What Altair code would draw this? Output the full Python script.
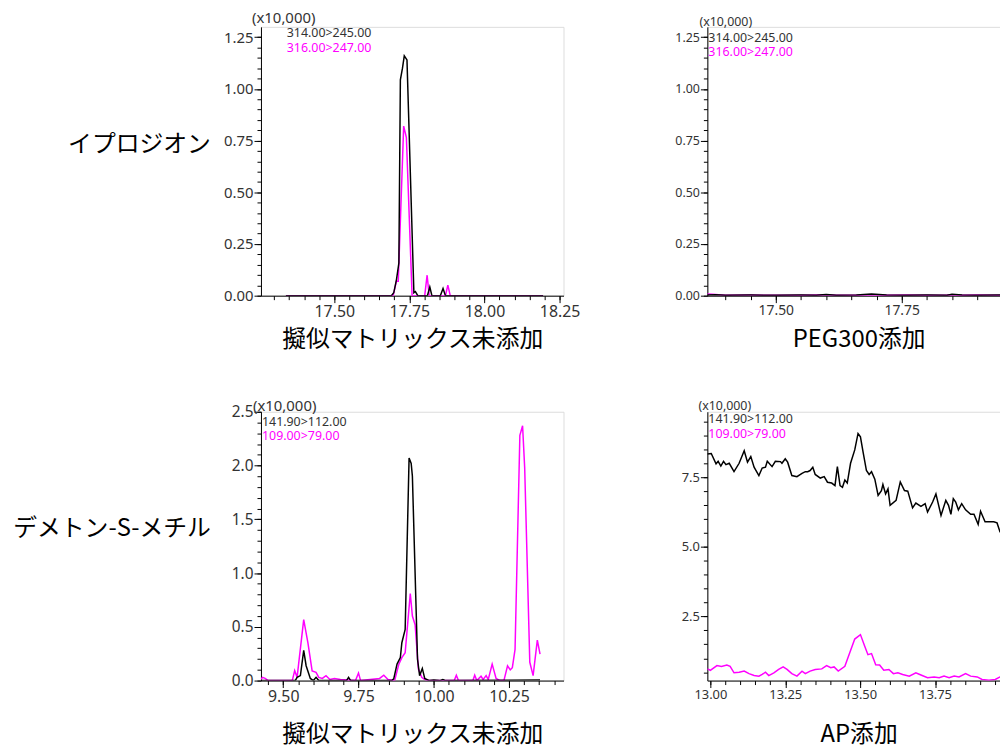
import altair as alt
import pandas as pd

# ---------------- data ----------------
# Top-left: イプロジオン, 擬似マトリックス未添加
TL_BLACK_T = [17.339, 17.50, 17.60, 17.690, 17.698, 17.707, 17.715, 17.720, 17.727, 17.733,
              17.742, 17.765, 17.770, 17.778, 17.810, 17.818, 17.825, 17.853, 17.862, 17.870, 18.195]
TL_BLACK_V = [0.0, 0.0, 0.0, 0.0, 0.014, 0.078, 0.158, 1.044, 1.10, 1.16,
              1.14, 0.014, 0.02, 0.0, 0.0, 0.042, 0.0, 0.0, 0.035, 0.0, 0.0]
TL_PINK_T = [17.339, 17.50, 17.60, 17.696, 17.707, 17.713, 17.731, 17.740, 17.759,
             17.801, 17.809, 17.816, 17.870, 17.878, 17.886, 18.195]
TL_PINK_V = [0.0, 0.0, 0.0, 0.0, 0.07, 0.07, 0.82, 0.765, 0.0,
             0.0, 0.099, 0.0, 0.0, 0.051, 0.0, 0.0]

# Top-right: イプロジオン, PEG300添加
TR_T = [17.364, 17.38, 17.40, 17.45, 17.50, 17.55, 17.58, 17.60, 17.62, 17.66,
        17.69, 17.72, 17.76, 17.80, 17.84, 17.85, 17.87, 17.90, 17.95, 18.00]
TR_BLACK_V = [0.003, 0.004, 0.002, 0.003, 0.002, 0.003, 0.002, 0.006, 0.002, 0.003,
              0.008, 0.003, 0.002, 0.003, 0.002, 0.007, 0.003, 0.002, 0.003, 0.002]
TR_PINK_V = [0.008, 0.006, 0.002, 0.003, 0.002, 0.002, 0.003, 0.004, 0.002, 0.002,
             0.004, 0.002, 0.003, 0.002, 0.003, 0.004, 0.002, 0.003, 0.002, 0.003]

# Bottom-left: デメトン-S-メチル, 擬似マトリックス未添加
BL_BLACK_T = [9.426, 9.50, 9.540, 9.546, 9.557, 9.568, 9.576, 9.590, 9.600, 9.609, 9.618,
              9.710, 9.717, 9.724, 9.860, 9.867, 9.878, 9.889, 9.894, 9.905, 9.918, 9.925,
              9.929, 9.946, 9.953, 9.962, 9.970, 9.985, 10.00, 10.02, 10.03, 10.04, 10.353]
BL_BLACK_V = [0.0, 0.0, 0.0, 0.03, 0.046, 0.28, 0.138, 0.02, 0.0, 0.03, 0.0,
              0.0, 0.03, 0.0, 0.0, 0.016, 0.153, 0.214, 0.352, 0.475, 2.07, 2.02,
              1.90, 0.2, 0.046, 0.113, 0.02, 0.0, 0.005, 0.0, 0.01, 0.0, 0.005]
BL_PINK_T = [9.426, 9.431, 9.440, 9.450, 9.530, 9.538, 9.546, 9.568, 9.582, 9.596, 9.609,
             9.618, 9.630, 9.642, 9.655, 9.670, 9.690, 9.740, 9.750, 9.757, 9.820, 9.834,
             9.848, 9.870, 9.884, 9.894, 9.905, 9.922, 9.929, 9.938, 9.949, 9.960, 9.970,
             9.985, 10.068, 10.075, 10.082, 10.130, 10.136, 10.143, 10.157, 10.164, 10.174,
             10.181, 10.194, 10.207, 10.220, 10.233, 10.245, 10.254, 10.261, 10.270, 10.286,
             10.295, 10.302, 10.319, 10.330, 10.344, 10.353]
BL_PINK_V = [0.01, 0.03, 0.02, 0.0, 0.0, 0.092, 0.03, 0.567, 0.35, 0.09, 0.076,
             0.03, 0.02, 0.046, 0.01, 0.02, 0.01, 0.0, 0.07, 0.0, 0.02, 0.05,
             0.01, 0.0, 0.153, 0.214, 0.26, 0.81, 0.60, 0.52, 0.107, 0.03, 0.01,
             0.0, 0.0, 0.05, 0.0, 0.0, 0.05, 0.0, 0.04, 0.01, 0.046,
             0.01, 0.153, 0.02, 0.0, 0.0, 0.138, 0.10, 0.12, 0.29, 2.28,
             2.37, 1.98, 0.17, 0.046, 0.377, 0.245]

# Bottom-right: デメトン-S-メチル, AP添加
BR_BLACK_T = [12.990, 13.003, 13.019, 13.026, 13.035, 13.044, 13.052, 13.063, 13.079, 13.096,
              13.113, 13.124, 13.135, 13.146, 13.162, 13.173, 13.184, 13.190, 13.206, 13.217,
              13.234, 13.239, 13.250, 13.258, 13.272, 13.289, 13.306, 13.317, 13.325, 13.333,
              13.342, 13.350, 13.367, 13.380, 13.391, 13.405, 13.416, 13.424, 13.433, 13.441,
              13.449, 13.457, 13.468, 13.482, 13.493, 13.501, 13.510, 13.521, 13.530, 13.538,
              13.549, 13.560, 13.571, 13.576, 13.585, 13.593, 13.600, 13.620, 13.634, 13.648,
              13.659, 13.675, 13.686, 13.703, 13.717, 13.725, 13.742, 13.753, 13.770, 13.786,
              13.795, 13.803, 13.811, 13.819, 13.828, 13.839, 13.852, 13.869, 13.880, 13.894,
              13.902, 13.917, 13.930, 13.946, 13.957, 13.967, 13.980, 14.000]
BR_BLACK_V = [8.33, 8.35, 7.98, 8.07, 7.90, 8.07, 7.95, 8.00, 7.70, 8.00,
              8.45, 8.04, 8.24, 7.86, 7.56, 7.83, 7.86, 8.07, 7.88, 8.07,
              8.06, 8.00, 8.16, 8.04, 7.56, 7.52, 7.64, 7.70, 7.70, 7.74,
              7.86, 7.60, 7.47, 7.52, 7.32, 7.29, 7.20, 7.88, 7.20, 7.14,
              7.40, 7.29, 8.00, 8.48, 9.07, 8.95, 8.39, 7.74, 7.60, 7.70,
              7.43, 6.85, 7.02, 7.24, 6.90, 7.08, 6.49, 6.67, 7.33, 7.02,
              7.00, 6.40, 6.57, 6.45, 6.55, 6.25, 6.61, 6.90, 6.13, 6.67,
              6.49, 6.17, 6.73, 6.61, 6.33, 6.55, 6.33, 6.17, 6.17, 5.81,
              6.28, 5.90, 5.90, 5.90, 5.86, 5.54, 5.40, 5.45]
BR_PINK_T = [12.990, 13.000, 13.022, 13.037, 13.055, 13.066, 13.079, 13.096, 13.113, 13.129,
             13.146, 13.162, 13.173, 13.184, 13.195, 13.212, 13.228, 13.243, 13.256, 13.272,
             13.289, 13.306, 13.317, 13.333, 13.350, 13.372, 13.388, 13.402, 13.413, 13.427,
             13.449, 13.465, 13.482, 13.501, 13.515, 13.526, 13.538, 13.552, 13.565, 13.579,
             13.596, 13.611, 13.626, 13.642, 13.664, 13.686, 13.703, 13.725, 13.747, 13.764,
             13.780, 13.797, 13.814, 13.830, 13.852, 13.869, 13.891, 13.907, 13.930, 13.951,
             13.967, 13.980, 14.000]
BR_PINK_V = [0.62, 0.57, 0.74, 0.71, 0.76, 0.71, 0.48, 0.50, 0.54, 0.45,
             0.38, 0.36, 0.42, 0.50, 0.38, 0.48, 0.60, 0.69, 0.60, 0.45,
             0.36, 0.54, 0.45, 0.54, 0.60, 0.62, 0.74, 0.66, 0.69, 0.54,
             0.71, 1.19, 1.69, 1.85, 1.44, 1.13, 1.17, 0.77, 0.76, 0.57,
             0.60, 0.45, 0.48, 0.42, 0.36, 0.48, 0.40, 0.30, 0.33, 0.30,
             0.36, 0.30, 0.36, 0.33, 0.45, 0.36, 0.33, 0.24, 0.21, 0.24,
             0.33, 0.35, 0.30]

ROW_LABELS = ["イプロジオン", "デメトン-S-メチル"]
COL_TITLES = ["擬似マトリックス未添加", "PEG300添加", "擬似マトリックス未添加", "AP添加"]
LEGEND_TOP = ["314.00>245.00", "316.00>247.00"]
LEGEND_BOTTOM = ["141.90>112.00", "109.00>79.00"]
SCALE_TEXT = "(x10,000)"

LATIN = "Noto Sans"
CJK = "Noto Sans CJK JP"
PINK = "#ff00ff"
GREY = "#333333"


def tick_values(start, stop, step):
    n = int(round((stop - start) / step))
    return [round(start + i * step, 4) for i in range(n + 1)]


def major_axis(values, fmt, fs, orient, **kw):
    return alt.Axis(values=values, format=fmt, orient=orient, tickSize=7,
                    labelOverlap=False, labelFlush=False, labelFont=LATIN, labelFontSize=fs,
                    labelColor=GREY, tickColor="black", domainColor="black", grid=False,
                    labelPadding=1, **kw)


def minor_axis(values, orient):
    return alt.Axis(values=values, orient=orient, tickSize=4, labels=False, domain=False,
                    tickColor="black", grid=False, title=None)


def panel(bt, bv, pt, pv, xdom, ydom, xaxis, xminor, yaxis, yminor, width, height,
          legend, leg_x, leg_y, leg_dy, sc_x, sc_y, sc_fs):
    xs = alt.Scale(domain=xdom, nice=False, zero=False)
    ys = alt.Scale(domain=ydom, nice=False, zero=False)
    pink = alt.Chart(pd.DataFrame({"t": pt, "v": pv})).mark_line(
        color=PINK, strokeWidth=1.5, clip=True).encode(
        x=alt.X("t:Q", scale=xs, axis=xaxis), y=alt.Y("v:Q", scale=ys, axis=yaxis))
    black = alt.Chart(pd.DataFrame({"t": bt, "v": bv})).mark_line(
        color="black", strokeWidth=1.5, clip=True).encode(
        x=alt.X("t:Q", scale=xs, axis=xminor), y=alt.Y("v:Q", scale=ys, axis=yminor))
    layers = [pink, black]
    for i, (txt, col) in enumerate(zip(legend, [GREY, PINK])):
        layers.append(alt.Chart(pd.DataFrame({"s": [txt]})).mark_text(
            align="left", baseline="middle", font=LATIN, fontSize=12.5, color=col).encode(
            x=alt.value(leg_x), y=alt.value(leg_y + i * leg_dy), text="s:N"))
    layers.append(alt.Chart(pd.DataFrame({"s": [SCALE_TEXT]})).mark_text(
        align="left", baseline="middle", font=LATIN, fontSize=sc_fs, color=GREY).encode(
        x=alt.value(sc_x), y=alt.value(sc_y), text="s:N"))
    return alt.layer(*layers).resolve_axis(x="independent", y="independent").properties(
        width=width, height=height)


W, H = 305, 271
TITLE_KW = dict(titleFont=CJK, titleFontSize=24, titleColor="black", titleFontWeight="normal",
                titleBaseline="middle", titleAlign="center", titleX=W / 2)
ROW_KW = dict(titleFont=CJK, titleFontSize=24, titleColor="black", titleFontWeight="normal",
              titleAngle=0, titleAlign="right", titleBaseline="middle", titleX=-51)

tl = panel(TL_BLACK_T, TL_BLACK_V, TL_PINK_T, TL_PINK_V, [17.256, 18.263], [0, 1.3],
           major_axis([17.50, 17.75, 18.00, 18.25], ".2f", 16, "bottom",
                      title=COL_TITLES[0], titleY=44, **TITLE_KW),
           minor_axis(tick_values(17.30, 18.25, 0.05), "bottom"),
           major_axis([0, 0.25, 0.5, 0.75, 1.0, 1.25], ".2f", 15, "left",
                      title=ROW_LABELS[0], titleY=119, **ROW_KW),
           minor_axis(tick_values(0, 1.25, 0.05), "left"),
           W, H, LEGEND_TOP, 26, 6, 15, -9, -9, 15)

tr = panel(TR_T, TR_BLACK_V, TR_T, TR_PINK_V, [17.364, 17.965], [0, 1.3],
           major_axis([17.50, 17.75], ".2f", 14, "bottom",
                      title=COL_TITLES[1], titleY=44, **TITLE_KW),
           minor_axis(tick_values(17.40, 17.95, 0.05), "bottom"),
           major_axis([0, 0.25, 0.5, 0.75, 1.0, 1.25], ".2f", 12.5, "left", title=None),
           minor_axis(tick_values(0, 1.25, 0.05), "left"),
           W, H, LEGEND_TOP, 1, 11, 14, -8, -5, 12.5)

bl = panel(BL_BLACK_T, BL_BLACK_V, BL_PINK_T, BL_PINK_V, [9.426, 10.431], [0, 2.5],
           major_axis([9.50, 9.75, 10.00, 10.25], ".2f", 16, "bottom",
                      title=COL_TITLES[2], titleY=54, **TITLE_KW),
           minor_axis(tick_values(9.45, 10.40, 0.05), "bottom"),
           major_axis([0, 0.5, 1.0, 1.5, 2.0, 2.5], ".1f", 15.5, "left",
                      title=ROW_LABELS[1], titleY=118, **ROW_KW),
           minor_axis(tick_values(0, 2.5, 0.1), "left"),
           W, H, LEGEND_BOTTOM, 1, 10, 14, -8, -6, 15)

br = panel(BR_BLACK_T, BR_BLACK_V, BR_PINK_T, BR_PINK_V, [12.990, 14.000], [0.2, 9.85],
           major_axis([13.00, 13.25, 13.50, 13.75], ".2f", 13, "bottom",
                      title=COL_TITLES[3], titleY=54, **TITLE_KW),
           minor_axis(tick_values(13.00, 13.95, 0.05), "bottom"),
           major_axis([2.5, 5.0, 7.5], ".1f", 13, "left", title=None),
           minor_axis(tick_values(0.5, 9.5, 0.5), "left"),
           W, H, LEGEND_BOTTOM, 1, 7, 15, -9, -6, 12.5)

chart = alt.concat(tl, tr, bl, br, columns=2, spacing={"row": 117, "column": 145},
                   bounds="flush").properties(
    autosize=alt.AutoSizeParams(type="none"),
    padding={"left": 255, "top": 16, "right": 745, "bottom": 729},
).configure_view(stroke="black", strokeWidth=1).configure(background="white")

chart.save("out.html", embed_options={"renderer": "svg", "actions": False})
